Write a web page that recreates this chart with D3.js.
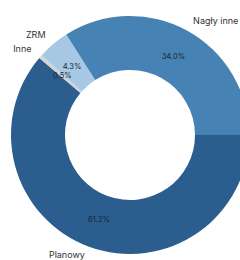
<!DOCTYPE html>
<html><head><meta charset="utf-8">
<script src="https://cdn.jsdelivr.net/npm/d3@7"></script>
<style>body{margin:0;background:#fff;overflow:hidden}svg{display:block}</style>
</head><body>
<svg id="c" width="240" height="260"></svg>
<script>
const categories = ["Planowy", "Inne", "ZRM", "Nagły inne"];
const values = [61.2, 0.5, 4.3, 34.0];
const colors = ["#2c5d8f", "#d3d3d3", "#a6c8e4", "#4682b4"];

const svg = d3.select("#c");
const cx = 130, cy = 135, rOuter = 119, rInner = 65;
const g = svg.append("g").attr("transform", `translate(${cx},${cy})`);

const pieData = d3.pie().sort(null).value(d=>d.v)
  .startAngle(Math.PI/2).endAngle(Math.PI/2+2*Math.PI)(values.map((v,i)=>({v,i,name:categories[i]})));

const arc = d3.arc().innerRadius(rInner).outerRadius(rOuter);
const labelArc = d3.arc().innerRadius(90).outerRadius(90);
const outArc = d3.arc().innerRadius(131).outerRadius(131);

g.selectAll("path").data(pieData).join("path")
  .attr("d", arc).attr("fill", d=>colors[d.data.i]);

g.selectAll("text.pct").data(pieData).join("text")
  .attr("class","pct")
  .attr("transform", d=>`translate(${labelArc.centroid(d)})`)
  .attr("text-anchor","middle").attr("dominant-baseline","central")
  .attr("font-family","Inter, 'Noto Sans', sans-serif").attr("font-size",7.5)
  .attr("fill","#1a2633")
  .text(d=>d3.format(".1f")(d.data.v)+"%");

g.selectAll("text.lbl").data(pieData).join("text")
  .attr("class","lbl")
  .attr("transform", d=>{const [x,y]=outArc.centroid(d); return `translate(${x},${Math.min(y, 260-cy-6)})`;})
  .attr("text-anchor", d=>{const m=(d.startAngle+d.endAngle)/2; return Math.sin(m)>=0?"start":"end";})
  .attr("dominant-baseline","central")
  .attr("font-family","Inter, 'Noto Sans', sans-serif").attr("font-size",9)
  .attr("fill","#333")
  .text(d=>d.data.name);
</script>
</body></html>
